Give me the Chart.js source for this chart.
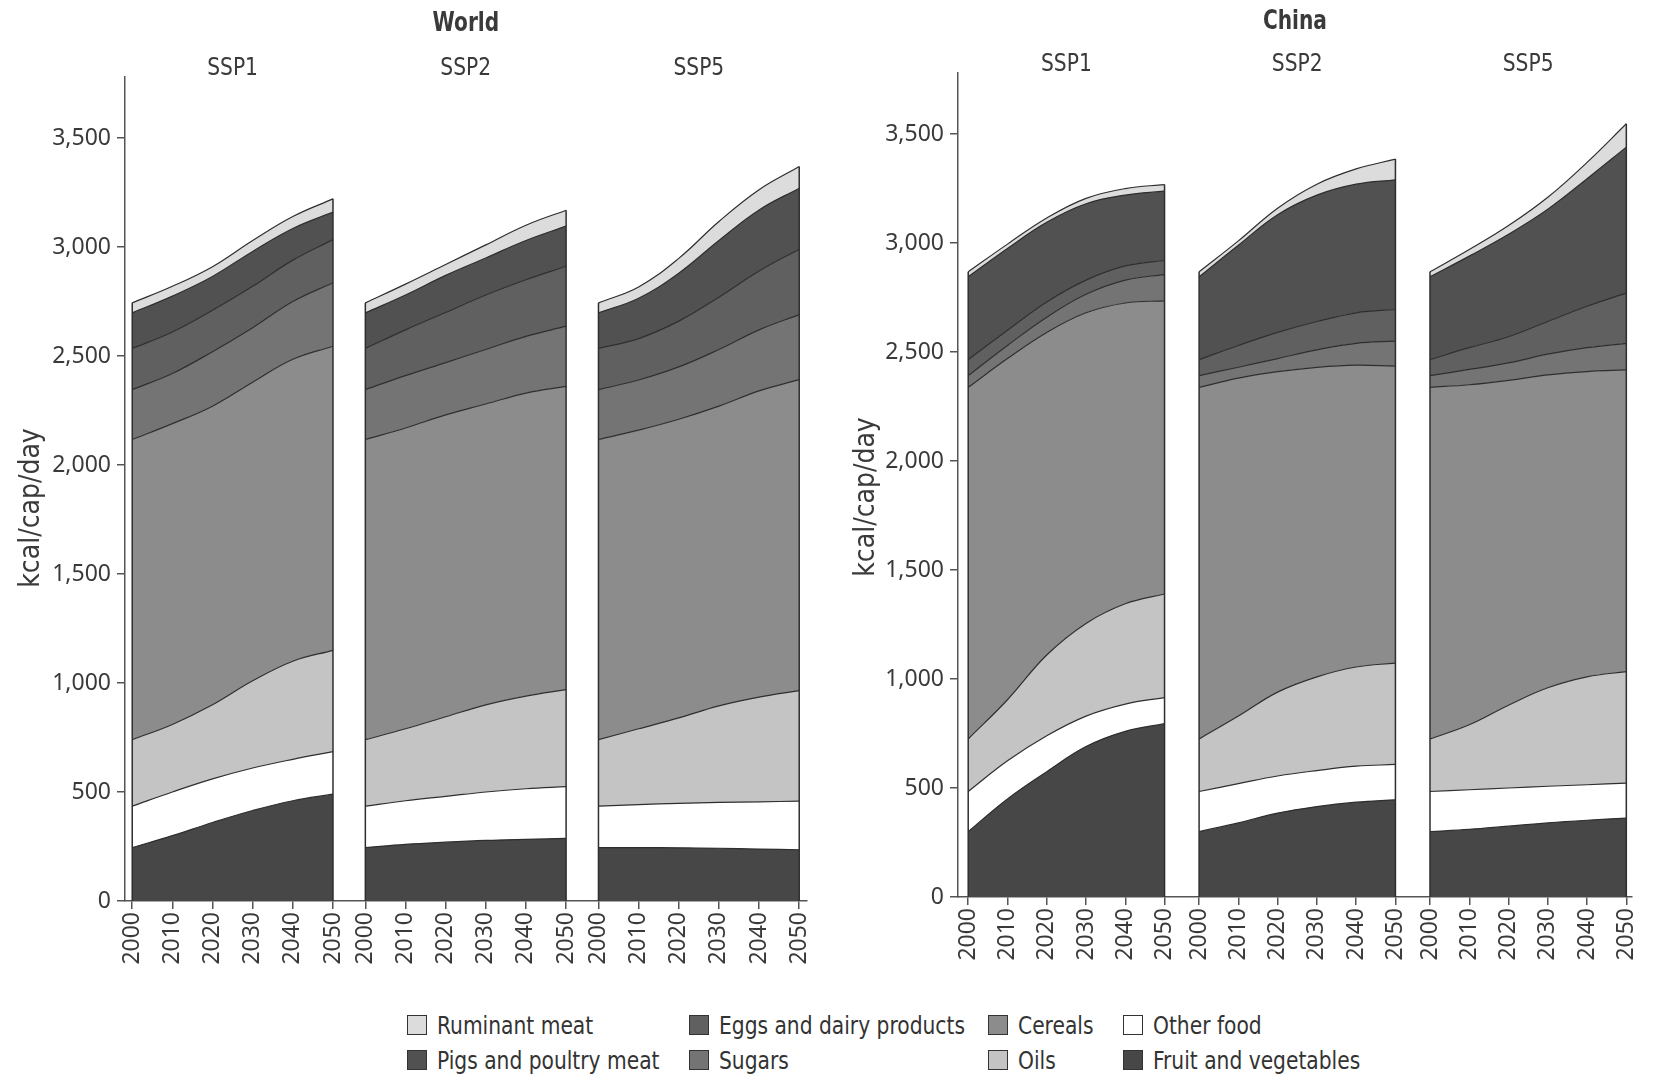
<!DOCTYPE html>
<html>
<head>
<meta charset="utf-8">
<script src="https://cdn.jsdelivr.net/npm/chart.js@4.4.1/dist/chart.umd.min.js"></script>
<style>
  html, body { margin: 0; padding: 0; background: #fff; }
  body { width: 1657px; height: 1080px; position: relative; overflow: hidden; }
  .panel { position: absolute; top: 0; }
  #worldWrap { left: 0; }
  #chinaWrap { left: 830px; }
  .item { position: absolute; display: flex; align-items: center; height: 30px;
          font: 25px 'Liberation Sans Narrow', 'DejaVu Sans Condensed', sans-serif; color: #333; white-space: nowrap; }
  .item .txt { display: inline-block; transform: scaleX(0.9); transform-origin: left center; }
  .swatch { width: 20px; height: 20px; border: 1.5px solid #333; margin-right: 10px; box-sizing: border-box; }
</style>
</head>
<body>
<div class="panel" id="worldWrap"><canvas id="worldChart" width="830" height="985"></canvas></div>
<div class="panel" id="chinaWrap"><canvas id="chinaChart" width="827" height="985"></canvas></div>
<div id="legend"></div>
<script>
const years = [2000, 2010, 2020, 2030, 2040, 2050];
const scenarios = ["SSP1", "SSP2", "SSP5"];
// bottom of the stack first
const categories = ["Fruit and vegetables", "Other food", "Oils", "Cereals", "Sugars",
                    "Eggs and dairy products", "Pigs and poultry meat", "Ruminant meat"];
const yTicks = [0, 500, 1000, 1500, 2000, 2500, 3000, 3500];

// kcal/cap/day, rows = SSP1, SSP2, SSP5
const worldFruitVeg = [
  [245, 300, 360, 415, 460, 490],
  [245, 260, 270, 278, 283, 287],
  [245, 245, 244, 242, 238, 235]];
const worldOtherFood = [
  [190, 200, 200, 195, 190, 195],
  [190, 200, 210, 222, 232, 238],
  [190, 197, 204, 210, 217, 223]];
const worldOils = [
  [305, 310, 340, 400, 450, 465],
  [305, 330, 365, 400, 425, 445],
  [305, 348, 392, 443, 480, 507]];
const worldCereals = [
  [1377, 1380, 1370, 1370, 1385, 1395],
  [1377, 1380, 1385, 1380, 1390, 1391],
  [1377, 1370, 1370, 1375, 1405, 1427]];
const worldSugars = [
  [229, 230, 250, 250, 265, 291],
  [229, 240, 240, 250, 260, 276],
  [229, 230, 240, 260, 280, 298]];
const worldEggsDairy = [
  [189, 190, 190, 190, 190, 198],
  [189, 210, 230, 250, 260, 275],
  [189, 190, 210, 240, 270, 300]];
const worldPigsPoultry = [
  [163, 165, 155, 160, 145, 126],
  [163, 160, 170, 170, 180, 184],
  [163, 185, 220, 260, 280, 280]];
const worldRuminant = [
  [46, 45, 45, 50, 55, 61],
  [46, 50, 50, 60, 70, 73],
  [46, 52, 68, 87, 93, 99]];

const chinaFruitVeg = [
  [300, 450, 575, 690, 760, 795],
  [300, 340, 385, 415, 435, 446],
  [300, 310, 325, 340, 352, 362]];
const chinaOtherFood = [
  [184, 175, 165, 140, 125, 120],
  [184, 180, 170, 165, 165, 162],
  [184, 182, 175, 168, 163, 160]];
const chinaOils = [
  [241, 280, 370, 425, 460, 475],
  [241, 310, 385, 430, 455, 465],
  [241, 298, 380, 452, 495, 512]];
const chinaCereals = [
  [1613, 1565, 1480, 1425, 1380, 1345],
  [1613, 1550, 1470, 1420, 1385, 1362],
  [1613, 1560, 1490, 1435, 1400, 1384]];
const chinaSugars = [
  [54, 60, 70, 85, 105, 120],
  [54, 50, 60, 80, 100, 115],
  [54, 70, 80, 95, 110, 122]];
const chinaEggsDairy = [
  [73, 70, 70, 65, 65, 65],
  [73, 100, 120, 130, 140, 145],
  [73, 100, 120, 150, 190, 230]];
const chinaPigsPoultry = [
  [380, 375, 365, 350, 325, 318],
  [380, 460, 540, 580, 590, 595],
  [380, 420, 470, 515, 585, 670]];
const chinaRuminant = [
  [23, 20, 20, 25, 30, 30],
  [23, 20, 30, 50, 70, 95],
  [23, 30, 40, 55, 75, 107]];

const worldSeries = [worldFruitVeg, worldOtherFood, worldOils, worldCereals,
                     worldSugars, worldEggsDairy, worldPigsPoultry, worldRuminant];
const chinaSeries = [chinaFruitVeg, chinaOtherFood, chinaOils, chinaCereals,
                     chinaSugars, chinaEggsDairy, chinaPigsPoultry, chinaRuminant];

// greys, same order as categories
const fills = ["#474747", "#ffffff", "#c4c4c4", "#8c8c8c", "#747474", "#606060", "#515151", "#dcdcdc"];
const lineColor = "#2e2e2e";
const axisColor = "#555";
const textColor = "#3a3a3a";
const condFont = "'Liberation Sans Narrow', 'DejaVu Sans Condensed', sans-serif";
const tickFont = "'Noto Sans', 'Open Sans', sans-serif";

const yearSpan = years[years.length - 1] - years[0];

function buildDatasets(series, gap) {
  const sets = [];
  scenarios.forEach((name, k) => {
    series.forEach((rows, i) => {
      sets.push({
        label: categories[i],
        data: years.map((yr, j) => ({ x: k * (yearSpan + gap) + (yr - years[0]), y: rows[k][j] })),
        backgroundColor: fills[i],
        borderColor: lineColor,
        borderWidth: 1.2,
        pointRadius: 0,
        fill: i === 0 ? "origin" : "-1",
        tension: 0.4
      });
    });
  });
  return sets;
}

// vertical outline at both ends of each scenario block
const panelEdges = {
  id: "panelEdges",
  afterDatasetsDraw(chart) {
    const ctx = chart.ctx;
    const zero = chart.scales.y.getPixelForValue(0);
    const n = categories.length;
    ctx.save();
    ctx.strokeStyle = lineColor;
    ctx.lineWidth = 1.5;
    scenarios.forEach((s, k) => {
      const pts = chart.getDatasetMeta(k * n + n - 1).data;
      [pts[0], pts[pts.length - 1]].forEach(p => {
        ctx.beginPath();
        ctx.moveTo(p.x, zero);
        ctx.lineTo(p.x, p.y);
        ctx.stroke();
      });
    });
    ctx.restore();
  }
};

// narrow text: the condensed face is not installed, so squeeze it a little
function narrowText(ctx, text, x, y, sx, rot) {
  ctx.save();
  ctx.translate(x, y);
  if (rot) ctx.rotate(rot);
  ctx.scale(sx, 1);
  ctx.fillText(text, 0, 0);
  ctx.restore();
}

const headers = {
  id: "headers",
  afterDraw(chart, args, opts) {
    const { ctx, chartArea, scales } = chart;
    ctx.save();
    ctx.fillStyle = textColor;
    ctx.textAlign = "center";
    ctx.textBaseline = "middle";
    ctx.font = "bold 27px " + condFont;
    narrowText(ctx, opts.title, (chartArea.left + chartArea.right) / 2, opts.titleY, 0.83);
    ctx.font = "25px " + condFont;
    scenarios.forEach((s, k) => {
      narrowText(ctx, s, scales.x.getPixelForValue(k * (yearSpan + opts.gap) + yearSpan / 2), opts.subY, 0.9);
    });
    ctx.font = "28px " + condFont;
    narrowText(ctx, "kcal/cap/day", opts.yTitleX, opts.yTitleY, 1, -Math.PI / 2);
    ctx.restore();
  }
};

function makeChart(id, series, o) {
  const tickPositions = [];
  scenarios.forEach((s, k) => years.forEach(yr => tickPositions.push(k * (yearSpan + o.gap) + (yr - years[0]))));
  return new Chart(document.getElementById(id), {
    type: "line",
    data: { datasets: buildDatasets(series, o.gap) },
    options: {
      responsive: false,
      animation: false,
      layout: { padding: { left: 0, right: o.padRight, top: o.top, bottom: 0 } },
      plugins: {
        legend: { display: false },
        tooltip: { enabled: false },
        headers: { title: o.title, titleY: o.titleY, subY: o.subY, gap: o.gap, yTitleX: o.yTitleX, yTitleY: o.yTitleY }
      },
      scales: {
        x: {
          type: "linear",
          min: o.xMin,
          max: o.xMax,
          grid: { drawOnChartArea: false, tickLength: 8, color: axisColor, lineWidth: 1.5 },
          border: { color: axisColor, width: 1.5 },
          ticks: {
            autoSkip: false, minRotation: 90, maxRotation: 90, padding: 3,
            color: textColor, font: { family: tickFont, size: 23 },
            callback: (v, i) => String(years[i % years.length])
          },
          afterBuildTicks: s => { s.ticks = tickPositions.map(v => ({ value: v })); },
          afterFit: s => { s.height = o.xAxisHeight; }
        },
        y: {
          stacked: true,
          min: 0,
          max: 3780,
          grid: { drawOnChartArea: false, tickLength: 8, color: axisColor, lineWidth: 1.5 },
          border: { color: axisColor, width: 1.5 },
          ticks: {
            padding: 6, color: textColor, font: { family: tickFont, size: 23 },
            callback: v => v.toLocaleString("en-US")
          },
          afterBuildTicks: s => { s.ticks = yTicks.map(v => ({ value: v })); },
          afterFit: s => { s.width = o.yAxisWidth; }
        }
      }
    },
    plugins: [panelEdges, headers]
  });
}

makeChart("worldChart", worldSeries, {
  title: "World", gap: 8.06, xMin: -1.8, xMax: 168, yAxisWidth: 125, padRight: 16,
  top: 77, xAxisHeight: 84, titleY: 24, subY: 68, yTitleX: 32, yTitleY: 508
});
makeChart("chinaChart", chinaSeries, {
  title: "China", gap: 8.8, xMin: -2.6, xMax: 169, yAxisWidth: 128, padRight: 9,
  top: 73, xAxisHeight: 88, titleY: 22, subY: 64, yTitleX: 37, yTitleY: 497
});

// legend, read column by column from the top of the stack
const legendCols = [407, 689, 988, 1123];
const legendRows = [1010, 1045];
const legend = document.getElementById("legend");
categories.slice().reverse().forEach((name, n) => {
  const i = categories.indexOf(name);
  const item = document.createElement("div");
  item.className = "item";
  item.style.left = legendCols[Math.floor(n / 2)] + "px";
  item.style.top = legendRows[n % 2] + "px";
  const sw = document.createElement("span");
  sw.className = "swatch";
  sw.style.background = fills[i];
  const txt = document.createElement("span");
  txt.className = "txt";
  txt.textContent = name;
  item.appendChild(sw);
  item.appendChild(txt);
  legend.appendChild(item);
});
</script>
</body>
</html>
